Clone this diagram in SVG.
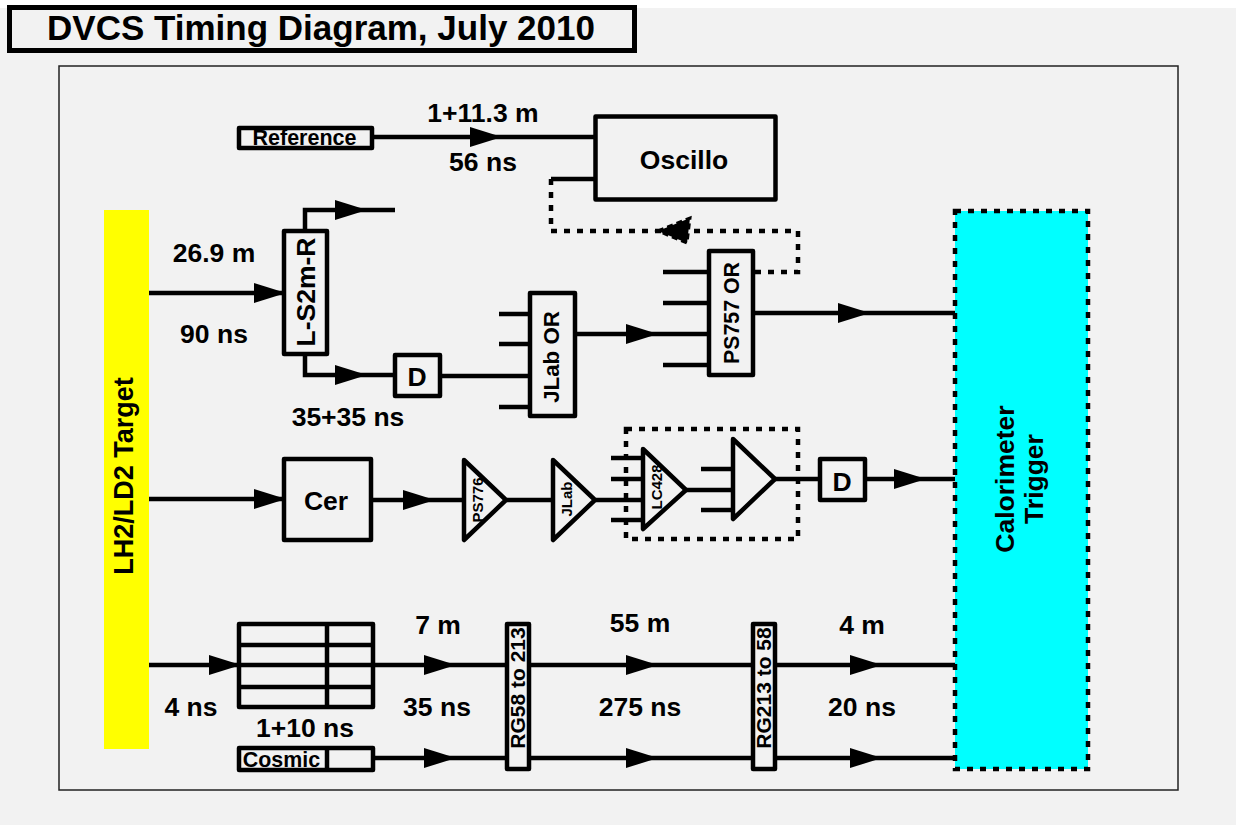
<svg xmlns="http://www.w3.org/2000/svg" width="1236" height="825" viewBox="0 0 1236 825">
<style>
text{font-family:"Liberation Sans",Arial,sans-serif;font-weight:bold;fill:#000;text-anchor:middle}
.b{fill:none;stroke:#000;stroke-width:4.5;stroke-linejoin:round}
.f{fill:#f2f2f2;stroke:#000;stroke-width:4.5;stroke-linejoin:round}
.l{fill:none;stroke:#000;stroke-width:4.5}
.d{fill:none;stroke:#000;stroke-width:4.5;stroke-dasharray:6 7}
.t{font-size:26.500px}.s{font-size:26.500px}
</style>
<defs>
<polygon id="ah" points="0,-10 32,0 0,10" fill="#000"/>
</defs>
<rect width="1236" height="825" fill="#fff"/>
<rect x="0" y="8" width="1236" height="817" fill="#f2f2f2"/>
<rect id="title-box" x="9.500" y="7.500" width="625" height="43" fill="#f2f2f2" stroke="#000" stroke-width="5"/>
<text id="title" x="321" y="39.500" font-size="35">DVCS Timing Diagram, July 2010</text>
<rect id="frame" x="59" y="66" width="1119" height="724" fill="#f2f2f2" stroke="#222" stroke-width="1.500"/>
<g id="target"><rect x="104" y="210" width="45" height="539" fill="#ff0"/>
<text transform="translate(133,476) rotate(-90)" font-size="27">LH2/LD2 Target</text></g>
<g id="calorimeter"><rect x="955" y="211" width="133" height="558" fill="#0ff" stroke="#000" stroke-width="4.500" stroke-dasharray="6 7"/>
<text transform="translate(1014,479) rotate(-90)" class="t">Calorimeter</text>
<text transform="translate(1043,479) rotate(-90)" class="t">Trigger</text></g>
<g id="connectors">
<path class="l" d="M373 137H595M551 179H595M149 293H282M305 229V210H395M305 356V375H393M442 376H528M499 314H528M499 344H528M499 407H528M577 334H707M663 272H707M663 303H707M663 365H707M755 313H955"/>
<path class="d" d="M551 179V231H798V272H755"/>
<polygon points="658,231 690,218 687,243" fill="#000" stroke="#000" stroke-width="3" stroke-dasharray="6 4"/>
<path class="l" d="M149 499H282M373 500H462M507 500H552M596 500H641M611 458H641M611 479H641M611 520H641M686 490H732M701 469H732M701 510H732M775 479H818M867 479H955"/>
<path class="l" d="M149 665H955M375 758H955"/>
<use href="#ah" x="470" y="137"/><use href="#ah" x="335" y="210"/><use href="#ah" x="254" y="293"/><use href="#ah" x="335" y="375"/><use href="#ah" x="626" y="334"/><use href="#ah" x="838" y="313"/>
<use href="#ah" x="254" y="499"/><use href="#ah" x="403" y="500"/><use href="#ah" x="894" y="479"/>
<use href="#ah" x="209" y="665"/><use href="#ah" x="424" y="665"/><use href="#ah" x="626" y="665"/><use href="#ah" x="850" y="665"/>
<use href="#ah" x="424" y="758"/><use href="#ah" x="626" y="758"/><use href="#ah" x="850" y="758"/>
</g>
<g id="reference"><rect class="b" x="239" y="128" width="133" height="20"/><text x="304.500" y="145" font-size="21.500">Reference</text></g>
<g id="oscillo"><rect class="b" x="595.500" y="116.500" width="180" height="83"/><text x="684" y="169" class="t">Oscillo</text></g>
<g id="l-s2m-r"><rect class="b" x="284" y="231" width="43" height="123"/><text transform="translate(315,292) rotate(-90)" class="t">L-S2m-R</text></g>
<g id="d1"><rect class="b" x="395" y="355" width="45" height="41"/><text x="417" y="386" class="t">D</text></g>
<g id="jlab-or"><rect class="b" x="530" y="293" width="45" height="123"/><text transform="translate(559,357) rotate(-90)" font-size="22.300">JLab OR</text></g>
<g id="ps757-or"><rect class="b" x="709" y="251" width="44" height="124"/><text transform="translate(739,313) rotate(-90)" font-size="21.300">PS757 OR</text></g>
<g id="cer"><rect class="b" x="284" y="459" width="87" height="81"/><text x="326" y="510" class="t">Cer</text></g>
<g id="ps776"><polygon class="b" points="464,460 506,500 464,540"/><text transform="translate(483,500) rotate(-90)" font-size="15">PS776</text></g>
<g id="jlab"><polygon class="b" points="553,460 595,500 553,540"/><text transform="translate(572,499) rotate(-90)" font-size="15">JLab</text></g>
<g id="lc428"><polygon class="b" points="643,449 686,490 643,529"/><rect class="d" x="626" y="429" width="172" height="110"/><text transform="translate(662,487) rotate(-90)" font-size="15">LC428</text></g>
<g id="amp"><polygon class="b" points="733,439 775,479 733,519"/></g>
<g id="d2"><rect class="b" x="820" y="459" width="45" height="41"/><text x="842" y="491" class="t">D</text></g>
<g id="delay-table"><path class="b" d="M239 624H373V707H239ZM239 645H373M239 687H373M327 624V707"/></g>
<g id="cosmic"><rect class="b" x="239" y="748" width="134" height="22"/><path class="l" d="M327 748V770"/><text x="281.500" y="767" font-size="21.400">Cosmic</text></g>
<g id="rg58"><rect class="f" x="507" y="624" width="22" height="145"/><text transform="translate(525,688) rotate(-90)" font-size="21">RG58 to 213</text></g>
<g id="rg213"><rect class="f" x="753" y="624" width="22" height="145"/><text transform="translate(771,688) rotate(-90)" font-size="21">RG213 to 58</text></g>
<g id="labels">
<text x="483" y="122" class="s">1+11.3 m</text><text x="483" y="171" class="s">56 ns</text>
<text x="214" y="262" class="s">26.9 m</text><text x="214" y="343" class="s">90 ns</text>
<text x="348" y="426" class="s">35+35 ns</text>
<text x="438" y="634" class="s">7 m</text><text x="640" y="632" class="s">55 m</text><text x="862" y="634" class="s">4 m</text>
<text x="191" y="716" class="s">4 ns</text><text x="437" y="716" class="s">35 ns</text><text x="640" y="716" class="s">275 ns</text><text x="862" y="716" class="s">20 ns</text>
<text x="305" y="737" class="s">1+10 ns</text>
</g>
</svg>
